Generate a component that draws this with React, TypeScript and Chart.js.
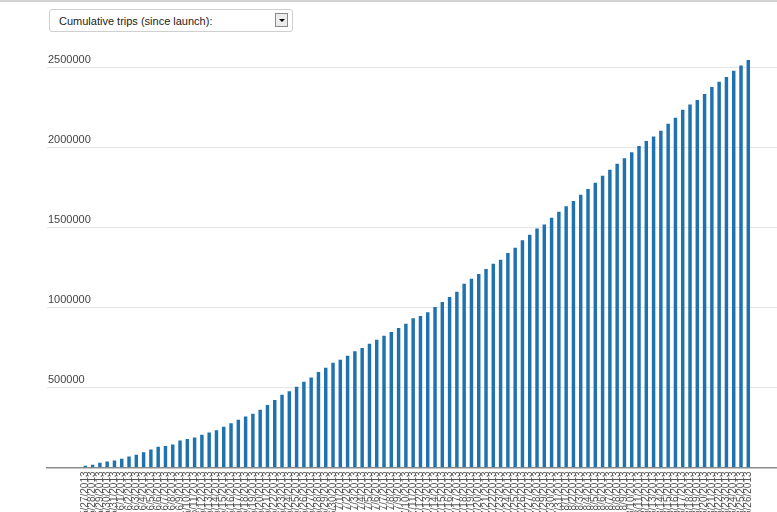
import React, { useEffect, useRef } from 'react';
import { Chart, registerables } from 'chart.js';

Chart.register(...registerables);

const dateLabels: string[] = [
  '5/27/2013', '5/28/2013', '5/29/2013', '5/30/2013', '5/31/2013',
  '6/1/2013', '6/2/2013', '6/3/2013', '6/4/2013', '6/5/2013', '6/6/2013', '6/7/2013', '6/8/2013', '6/9/2013', '6/10/2013',
  '6/11/2013', '6/12/2013', '6/13/2013', '6/14/2013', '6/15/2013', '6/16/2013', '6/17/2013', '6/18/2013', '6/19/2013', '6/20/2013',
  '6/21/2013', '6/22/2013', '6/23/2013', '6/24/2013', '6/25/2013', '6/26/2013', '6/27/2013', '6/28/2013', '6/29/2013', '6/30/2013',
  '7/1/2013', '7/2/2013', '7/3/2013', '7/4/2013', '7/5/2013', '7/6/2013', '7/7/2013', '7/8/2013', '7/9/2013', '7/10/2013',
  '7/11/2013', '7/12/2013', '7/13/2013', '7/14/2013', '7/15/2013', '7/16/2013', '7/17/2013', '7/18/2013', '7/19/2013', '7/20/2013',
  '7/21/2013', '7/22/2013', '7/23/2013', '7/24/2013', '7/25/2013', '7/26/2013', '7/27/2013', '7/28/2013', '7/29/2013', '7/30/2013',
  '7/31/2013',
  '8/1/2013', '8/2/2013', '8/3/2013', '8/4/2013', '8/5/2013', '8/6/2013', '8/7/2013', '8/8/2013', '8/9/2013', '8/10/2013',
  '8/11/2013', '8/12/2013', '8/13/2013', '8/14/2013', '8/15/2013', '8/16/2013', '8/17/2013', '8/18/2013', '8/19/2013', '8/20/2013',
  '8/21/2013', '8/22/2013', '8/23/2013', '8/24/2013', '8/25/2013', '8/26/2013',
];

const cumulativeTrips: number[] = [
  9000, 15000, 28000, 35000, 41000, 52000, 66000, 77000, 94000, 110000,
  127000, 132000, 141000, 166000, 176000, 186000, 203000, 216000, 230000, 253000,
  274000, 297000, 316000, 334000, 359000, 389000, 420000, 453000, 474000, 503000,
  534000, 561000, 595000, 622000, 653000, 672000, 697000, 724000, 745000, 772000,
  797000, 822000, 845000, 870000, 897000, 930000, 945000, 968000, 1001000, 1032000,
  1064000, 1097000, 1147000, 1178000, 1207000, 1239000, 1272000, 1297000, 1338000, 1372000,
  1418000, 1452000, 1491000, 1516000, 1559000, 1597000, 1630000, 1664000, 1703000, 1739000,
  1778000, 1822000, 1859000, 1897000, 1930000, 1968000, 2007000, 2039000, 2066000, 2103000,
  2147000, 2184000, 2234000, 2266000, 2295000, 2332000, 2376000, 2409000, 2439000, 2478000,
  2511000, 2545000,
];

const yTickValues: number[] = [0, 500000, 1000000, 1500000, 2000000, 2500000];

const selectorText = 'Cumulative trips (since launch):';
const yMax = 2640625;

const FONT = 'Arial, "Liberation Sans", sans-serif';

export default function App() {
  const canvasRef = useRef<HTMLCanvasElement>(null);

  useEffect(() => {
    document.body.style.margin = '0';
    const canvas = canvasRef.current;
    if (!canvas) return;
    const chart = new Chart(canvas, {
      type: 'bar',
      data: {
        datasets: [
          {
            data: cumulativeTrips.map((v, i) => ({ x: i, y: v })),
            backgroundColor: '#1f72ad',
            barThickness: 2.8,
          },
        ],
      },
      options: {
        responsive: false,
        animation: false,
        layout: { padding: { top: 45, left: 0, right: 0, bottom: 0 } },
        plugins: { legend: { display: false }, tooltip: { enabled: false } },
        scales: {
          x: {
            type: 'linear',
            min: -5.26,
            max: 94.94,
            offset: false,
            grid: { display: false, drawTicks: false, offset: false },
            border: { display: true, color: '#8c8c8c', width: 1.5 },
            afterBuildTicks: (s: any) => {
              s.ticks = dateLabels.map((_, i) => ({ value: i }));
            },
            afterFit: (s: any) => {
              s.height = 44.5;
            },
            ticks: {
              autoSkip: false,
              minRotation: 90,
              maxRotation: 90,
              padding: 4,
              color: '#555',
              font: { family: FONT, size: 10 },
              callback: (v: any) => dateLabels[v as number] ?? '',
            },
          },
          y: {
            min: 0,
            max: yMax,
            grid: {
              color: (c: any) => (c.tick && c.tick.value === 0 ? 'rgba(0,0,0,0)' : '#e4e4e4'),
              drawTicks: false,
            },
            border: { display: false },
            afterBuildTicks: (s: any) => {
              s.ticks = yTickValues.map((v) => ({ value: v }));
            },
            afterFit: (s: any) => {
              s.width = 47;
            },
            ticks: {
              mirror: true,
              padding: 1,
              labelOffset: -7.5,
              color: '#444',
              font: { family: FONT, size: 11 },
              callback: (v: any) => (v === 0 ? '' : String(v)),
            },
          },
        },
      },
    });
    return () => chart.destroy();
  }, []);

  return (
    <div
      style={{
        position: 'fixed',
        left: 0,
        top: 0,
        width: 777,
        height: 512,
        background: '#fff',
        overflow: 'hidden',
      }}
    >
      <canvas ref={canvasRef} width={777} height={512} style={{ position: 'absolute', left: 0, top: 0 }} />
      <div style={{ position: 'absolute', left: 0, top: 0, width: 777, height: 2, background: '#d3d3d3' }} />
      <div
        style={{
          position: 'absolute',
          left: 49,
          top: 9,
          width: 244,
          height: 23,
          boxSizing: 'border-box',
          border: '1px solid #cfcfcf',
          borderRadius: 3,
          background: '#fff',
          display: 'flex',
          alignItems: 'center',
          paddingLeft: 9,
          font: `11px ${FONT}`,
          color: '#222',
        }}
      >
        <span>{selectorText}</span>
        <div
          style={{
            position: 'absolute',
            left: 225,
            top: 3,
            width: 13,
            height: 14,
            boxSizing: 'border-box',
            border: '1px solid #8a8a8a',
            background: '#ececec',
          }}
        >
          <div
            style={{
              position: 'absolute',
              left: 3,
              top: 5,
              width: 0,
              height: 0,
              borderLeft: '3px solid transparent',
              borderRight: '3px solid transparent',
              borderTop: '3px solid #000',
            }}
          />
        </div>
      </div>
    </div>
  );
}
